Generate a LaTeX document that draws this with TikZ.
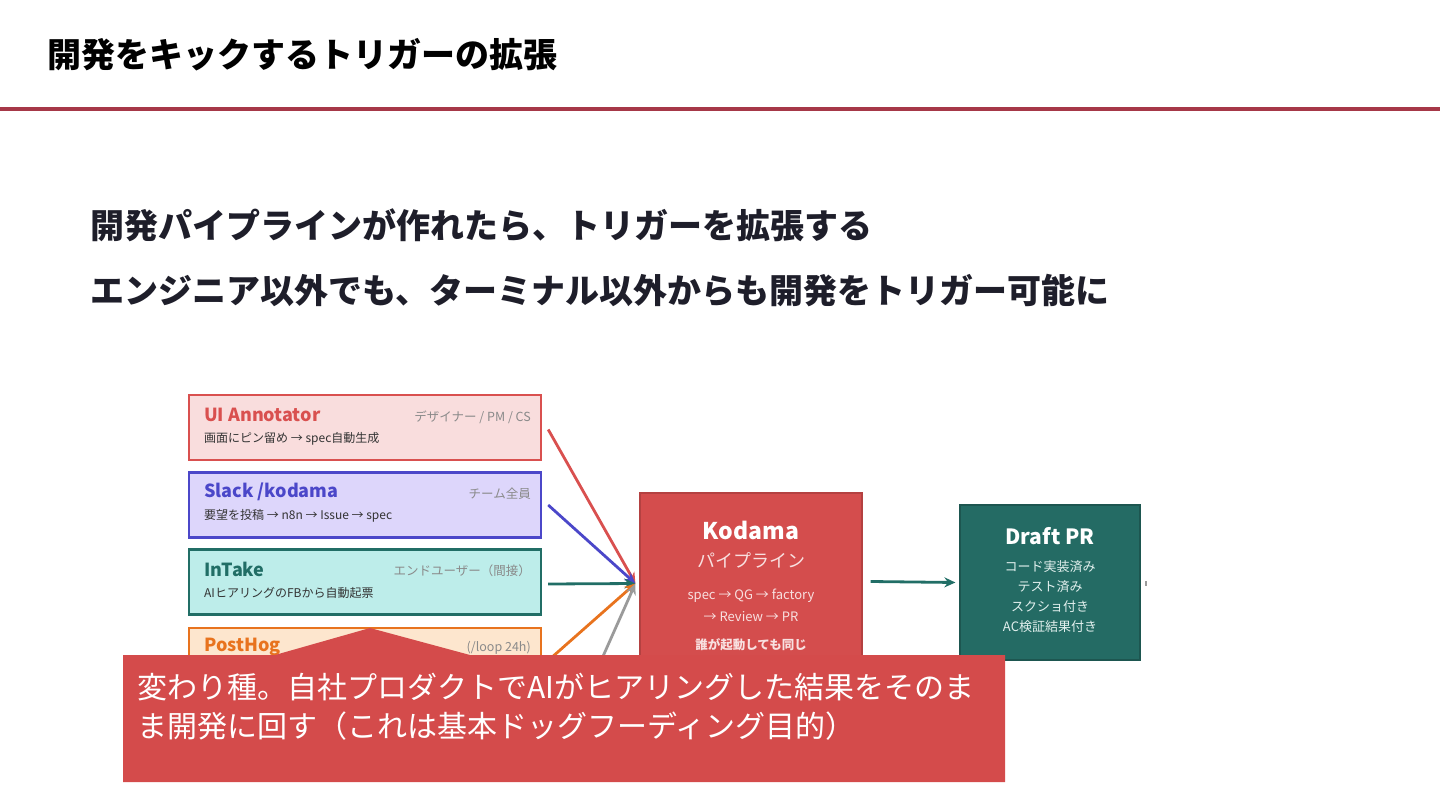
\documentclass[tikz,border=0pt]{standalone}
\usepackage{fontspec}
\setmainfont{Noto Sans CJK JP}
\usetikzlibrary{arrows.meta,calc}
\definecolor{ruleRed}{HTML}{A63848}
\definecolor{subInk}{HTML}{1E1E2A}
\definecolor{uiFill}{HTML}{F9DDDD}
\definecolor{uiLine}{HTML}{D9504F}
\definecolor{slackFill}{HTML}{DDD6FB}
\definecolor{slackLine}{HTML}{4B47C9}
\definecolor{intakeFill}{HTML}{BDEDEA}
\definecolor{intakeLine}{HTML}{216E66}
\definecolor{hogFill}{HTML}{FDE6CE}
\definecolor{hogLine}{HTML}{E8731E}
\definecolor{hubRed}{HTML}{D44D4D}
\definecolor{hubText}{HTML}{F8E0E0}
\definecolor{draftFill}{HTML}{246B64}
\definecolor{draftText}{HTML}{E2F0EE}
\definecolor{calloutRed}{HTML}{D44B4B}
\definecolor{whoGray}{HTML}{8A8A8A}
\definecolor{flowInk}{HTML}{333333}
\definecolor{feedGray}{HTML}{9A9A9A}

\begin{document}
\begin{tikzpicture}[x=1pt,y=-1pt,
  srcbox/.style={draw,line width=2.4pt,minimum width=352pt,minimum height=65pt,inner sep=0pt},
  boxname/.style={anchor=west,inner sep=0pt,font=\bfseries\fontsize{18}{20}\selectfont},
  boxwho/.style={anchor=east,inner sep=0pt,text=whoGray,font=\fontsize{12.5}{14}\selectfont},
  boxflow/.style={anchor=west,inner sep=0pt,text=flowInk,font=\fontsize{12}{14}\selectfont},
  feed/.style={line width=2.8pt,-{Stealth[length=11pt,width=10pt]}}]
\useasboundingbox (0,0) rectangle (1440,810);
% baslik
\node[anchor=west,inner sep=0pt,font=\bfseries\fontsize{34}{40}\selectfont] (title) at (47,55) {開発をキックするトリガーの拡張};
\draw[ruleRed,line width=4pt] (0,109)--(1440,109);
\node[anchor=west,inner sep=0pt,text=subInk,font=\bfseries\fontsize{34}{40}\selectfont] (lineA) at (90,225) {開発パイプラインが作れたら、トリガーを拡張する};
\node[anchor=west,inner sep=0pt,text=subInk,font=\bfseries\fontsize{34}{40}\selectfont] (lineB) at (90,291) {エンジニア以外でも、ターミナル以外からも開発をトリガー可能に};
% tetikleyiciler
\node[srcbox,draw=uiLine,fill=uiFill] (ui) at (365,427.5) {};
\node[boxname,text=uiLine] (uiName) at (204,415) {UI Annotator};
\node[boxwho] (uiWho) at (531,417) {デザイナー / PM / CS};
\node[boxflow] (uiFlow) at (204,439) {画面にピン留め → spec自動生成};
\node[srcbox,draw=slackLine,fill=slackFill] (slack) at (365,505) {};
\node[boxname,text=slackLine] (slackName) at (204,492) {Slack /kodama};
\node[boxwho] (slackWho) at (531,494) {チーム全員};
\node[boxflow] (slackFlow) at (204,516) {要望を投稿 → n8n → Issue → spec};
\node[srcbox,draw=intakeLine,fill=intakeFill] (intake) at (365,582) {};
\node[boxname,text=intakeLine] (intakeName) at (204,569) {InTake};
\node[boxwho] (intakeWho) at (531,571) {エンドユーザー（間接）};
\node[boxflow] (intakeFlow) at (204,593) {AIヒアリングのFBから自動起票};
\node[srcbox,draw=hogLine,fill=hogFill] (hog) at (365,660.5) {};
\node[boxname,text=hogLine] (hogName) at (204,647) {PostHog};
\node[boxwho] (hogWho) at (531,648) {(/loop 24h)};
% pipeline
\node[draw=hubRed!85!black,line width=1.2pt,fill=hubRed,minimum width=222pt,minimum height=177pt,inner sep=0pt] (kodama) at (751,581.5) {};
\node[text=white,font=\bfseries\fontsize{23}{26}\selectfont] (kodamaName) at (751,530) {Kodama};
\node[text=hubText,font=\fontsize{18}{20}\selectfont] (kodamaSub) at (751,560) {パイプライン};
\node[text=hubText,align=center,font=\fontsize{13}{22}\selectfont] (kodamaFlow) at (751,605) {spec → QG → factory\\→ Review → PR};
\node[text=hubText,font=\bfseries\fontsize{12.5}{14}\selectfont] (kodamaSame) at (751,645) {誰が起動しても同じ};
\node[draw=draftFill!80!black,line width=1.2pt,fill=draftFill,minimum width=180pt,minimum height=155pt,inner sep=0pt] (draft) at (1050,582.5) {};
\node[text=white,font=\bfseries\fontsize{21}{24}\selectfont] (draftName) at (1050,536) {Draft PR};
\node[text=draftText,align=center,font=\fontsize{13}{20}\selectfont] (draftList) at (1050,597) {コード実装済み\\テスト済み\\スクショ付き\\AC検証結果付き};
\node[fill=feedGray,minimum width=1.5pt,minimum height=5pt,inner sep=0pt] (tick) at (1146,583) {};
% oklar
\coordinate (hub) at ([xshift=-4pt,yshift=-2pt]kodama.west);
\coordinate (hidden) at (588,690);
\draw[feed,uiLine] ([xshift=6pt,yshift=-2pt]ui.east) -- (hub);
\draw[feed,slackLine] ([xshift=6pt]slack.east) -- (hub);
\draw[feed,intakeLine] ([xshift=6pt,yshift=-2pt]intake.east) -- (hub);
\draw[feed,hogLine] ([xshift=6pt]hog.east) -- (hub);
\draw[feed,feedGray] (hidden) -- (hub);
\draw[feed,intakeLine] ([xshift=8pt]kodama.east) -- ([xshift=-4pt]draft.west);
% not
\fill[calloutRed] (123,655) -- (275,655) -- (370,628) -- (470,655) -- (1005,655) -- (1005,782) -- (123,782) -- cycle;
\node[anchor=north west,align=left,inner sep=0pt,text=white,font=\fontsize{30}{39}\selectfont] (callText) at (137,673) {変わり種。自社プロダクトでAIがヒアリングした結果をそのま\\ま開発に回す（これは基本ドッグフーディング目的）};
\end{tikzpicture}
\end{document}
